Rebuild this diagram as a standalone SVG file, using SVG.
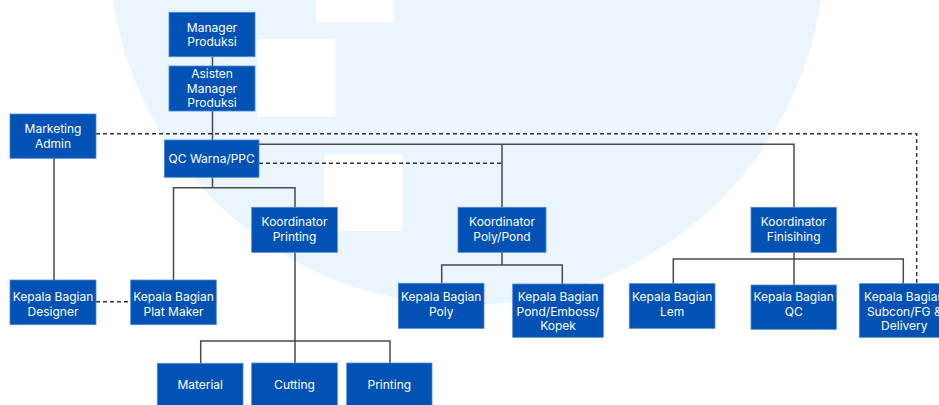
<svg xmlns="http://www.w3.org/2000/svg" width="939" height="405" viewBox="0 0 939 405">
<style>
.n rect{fill:#0152b4;stroke:#4f88d4;stroke-width:0.8}
.n text{fill:#ffffff;font-family:Inter,"Noto Sans","Liberation Sans",sans-serif;font-size:12px;text-anchor:middle}
.c path{fill:none;stroke:#4a4a4a;stroke-width:1.5}
.c path.d{stroke:#333;stroke-dasharray:4 3;stroke-width:1.4}
</style>
<rect width="939" height="405" fill="#ffffff"/>
<g id="background">
<circle cx="467" cy="-53" r="358" fill="#ebf5fe"/>
<rect x="316" y="-56" width="78" height="78.5" fill="#ffffff"/>
<rect x="257.5" y="39" width="78" height="77.7" fill="#ffffff"/>
<rect x="324.3" y="154" width="78" height="77" fill="#ffffff"/>
</g>
<g class="c" id="connectors">
<path d="M212.5 56.5V66"/>
<path d="M212.5 111V140"/>
<path d="M212.5 177V187.7M173.5 280V187.7H295V207.3"/>
<path d="M259 144.3H794V207.3M502 144.3V207.3"/>
<path class="d" d="M96 133.7H916.7V283.7"/>
<path class="d" d="M259 163.3H502"/>
<path d="M54 158V280"/>
<path class="d" d="M96 301.7H130.7"/>
<path d="M295 252.3V363.3M200.7 363.3V341H390V363.3"/>
<path d="M502 252.3V265M441.7 283.3V265H562.3V284"/>
<path d="M794 252.3V285M673.3 283.7V259H903.3V283.7"/>
</g>
<g class="n" id="manager-produksi"><rect x="169" y="12.3" width="86" height="44.4"/><text x="212" y="31.5">Manager</text><text x="212" y="46">Produksi</text></g>
<g class="n" id="asisten-manager"><rect x="169" y="66" width="86" height="45"/><text x="212" y="78">Asisten</text><text x="212" y="92.5">Manager</text><text x="212" y="107">Produksi</text></g>
<g class="n" id="marketing-admin"><rect x="10" y="114" width="86" height="44.3"/><text x="53" y="133">Marketing</text><text x="53" y="147.5">Admin</text></g>
<g class="n" id="qc-warna"><rect x="164.3" y="140" width="94.7" height="37.3"/><text x="211.7" y="162.8">QC Warna/PPC</text></g>
<g class="n" id="koordinator-printing"><rect x="251.7" y="207.3" width="85.6" height="45"/><text x="294.5" y="226.3">Koordinator</text><text x="294.5" y="240.8">Printing</text></g>
<g class="n" id="koordinator-poly"><rect x="458" y="207.3" width="88" height="45"/><text x="502" y="226.3">Koordinator</text><text x="502" y="240.8">Poly/Pond</text></g>
<g class="n" id="koordinator-finisihing"><rect x="751" y="207.3" width="85.3" height="45"/><text x="793.7" y="226.3">Koordinator</text><text x="793.7" y="240.8">Finisihing</text></g>
<g class="n" id="kb-designer"><rect x="10" y="280" width="86" height="44.7"/><text x="53" y="301">Kepala Bagian</text><text x="53" y="315.5">Designer</text></g>
<g class="n" id="kb-plat-maker"><rect x="130.7" y="280" width="85.6" height="44.7"/><text x="173.5" y="301">Kepala Bagian</text><text x="173.5" y="315.5">Plat Maker</text></g>
<g class="n" id="kb-poly"><rect x="398.3" y="283.3" width="85.7" height="45"/><text x="441.2" y="301">Kepala Bagian</text><text x="441.2" y="315.5">Poly</text></g>
<g class="n" id="kb-pond"><rect x="512.7" y="284" width="90.6" height="53.3"/><text x="558" y="301">Kepala Bagian</text><text x="558" y="315.5">Pond/Emboss/</text><text x="558" y="330">Kopek</text></g>
<g class="n" id="kb-lem"><rect x="629.3" y="283.7" width="85.7" height="44.6"/><text x="672.2" y="301">Kepala Bagian</text><text x="672.2" y="315.5">Lem</text></g>
<g class="n" id="kb-qc"><rect x="751" y="285" width="85.3" height="44.3"/><text x="793.7" y="301">Kepala Bagian</text><text x="793.7" y="315.5">QC</text></g>
<g class="n" id="kb-subcon"><rect x="859.3" y="283.7" width="90" height="53.6"/><text x="904.3" y="301">Kepala Bagian</text><text x="904.3" y="315.5">Subcon/FG &amp;</text><text x="904.3" y="330">Delivery</text></g>
<g class="n" id="material"><rect x="157.3" y="363.3" width="85.7" height="45"/><text x="200.2" y="389">Material</text></g>
<g class="n" id="cutting"><rect x="251.7" y="363" width="85.6" height="45"/><text x="294.5" y="389">Cutting</text></g>
<g class="n" id="printing"><rect x="346.7" y="363" width="85.3" height="45"/><text x="389.3" y="389">Printing</text></g>
</svg>
